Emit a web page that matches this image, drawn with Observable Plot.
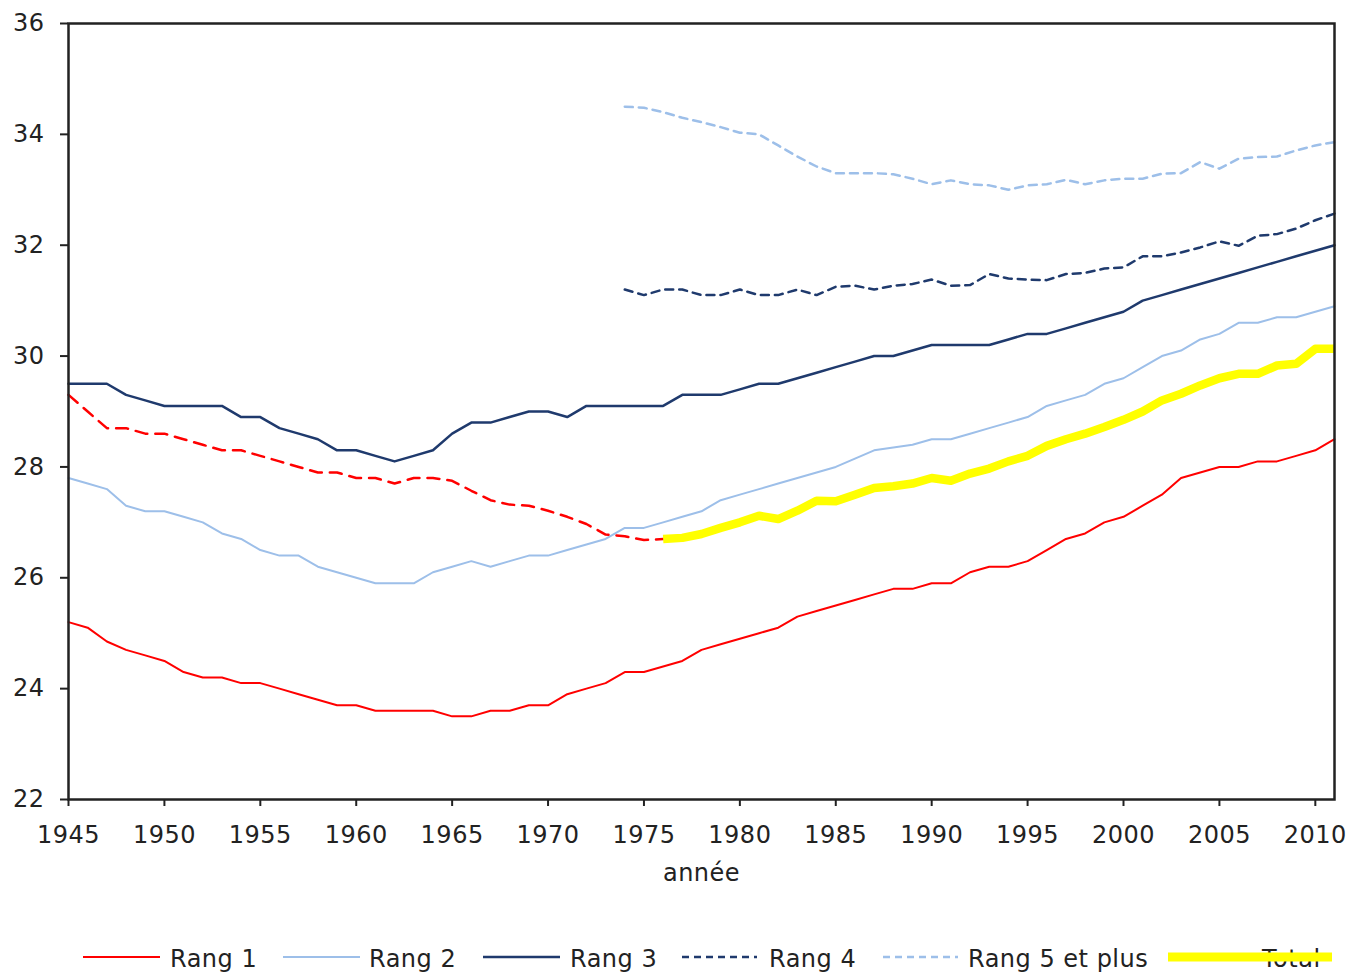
<!DOCTYPE html>
<html>
<head>
<meta charset="utf-8">
<script src="https://cdn.jsdelivr.net/npm/d3@7"></script>
<script src="https://cdn.jsdelivr.net/npm/@observablehq/plot@0.6"></script>
<style>
  html, body { margin: 0; padding: 0; background: #fff; }
  #wrap { position: relative; width: 1350px; height: 972px; overflow: hidden; }
  #legend { position: absolute; left: 0; top: 925px; }
  text { font-family: "DejaVu Sans", Verdana, sans-serif; letter-spacing: 0.5px; }
</style>
</head>
<body>
<div id="wrap">
  <div id="chart"></div>
  <svg id="legend" width="1350" height="47"></svg>
</div>
<script>
// ---- Data ----
const years = [1945,1946,1947,1948,1949,1950,1951,1952,1953,1954,
  1955,1956,1957,1958,1959,1960,1961,1962,1963,1964,
  1965,1966,1967,1968,1969,1970,1971,1972,1973,1974,
  1975,1976,1977,1978,1979,1980,1981,1982,1983,1984,
  1985,1986,1987,1988,1989,1990,1991,1992,1993,1994,
  1995,1996,1997,1998,1999,2000,2001,2002,2003,2004,
  2005,2006,2007,2008,2009,2010,2011];

const rang1 = [25.2,25.1,24.85,24.7,24.6,24.5,24.3,24.2,24.2,24.1,
  24.1,24.0,23.9,23.8,23.7,23.7,23.6,23.6,23.6,23.6,
  23.5,23.5,23.6,23.6,23.7,23.7,23.9,24.0,24.1,24.3,
  24.3,24.4,24.5,24.7,24.8,24.9,25.0,25.1,25.3,25.4,
  25.5,25.6,25.7,25.8,25.8,25.9,25.9,26.1,26.2,26.2,
  26.3,26.5,26.7,26.8,27.0,27.1,27.3,27.5,27.8,27.9,
  28.0,28.0,28.1,28.1,28.2,28.3,28.5];

const rang2 = [27.8,27.7,27.6,27.3,27.2,27.2,27.1,27.0,26.8,26.7,
  26.5,26.4,26.4,26.2,26.1,26.0,25.9,25.9,25.9,26.1,
  26.2,26.3,26.2,26.3,26.4,26.4,26.5,26.6,26.7,26.9,
  26.9,27.0,27.1,27.2,27.4,27.5,27.6,27.7,27.8,27.9,
  28.0,28.15,28.3,28.35,28.4,28.5,28.5,28.6,28.7,28.8,
  28.9,29.1,29.2,29.3,29.5,29.6,29.8,30.0,30.1,30.3,
  30.4,30.6,30.6,30.7,30.7,30.8,30.9];

const rang3 = [29.5,29.5,29.5,29.3,29.2,29.1,29.1,29.1,29.1,28.9,
  28.9,28.7,28.6,28.5,28.3,28.3,28.2,28.1,28.2,28.3,
  28.6,28.8,28.8,28.9,29.0,29.0,28.9,29.1,29.1,29.1,
  29.1,29.1,29.3,29.3,29.3,29.4,29.5,29.5,29.6,29.7,
  29.8,29.9,30.0,30.0,30.1,30.2,30.2,30.2,30.2,30.3,
  30.4,30.4,30.5,30.6,30.7,30.8,31.0,31.1,31.2,31.3,
  31.4,31.5,31.6,31.7,31.8,31.9,32.0];

// Rang 4 and Rang 5 et plus: series start in 1974
const yearsFrom1974 = [1974,
  1975,1976,1977,1978,1979,1980,1981,1982,1983,1984,
  1985,1986,1987,1988,1989,1990,1991,1992,1993,1994,
  1995,1996,1997,1998,1999,2000,2001,2002,2003,2004,
  2005,2006,2007,2008,2009,2010,2011];

const rang4 = [31.2,
  31.1,31.2,31.2,31.1,31.1,31.2,31.1,31.1,31.2,31.1,
  31.25,31.27,31.2,31.27,31.3,31.38,31.27,31.28,31.48,31.4,
  31.38,31.37,31.48,31.5,31.58,31.6,31.8,31.8,31.87,31.96,
  32.07,31.99,32.17,32.2,32.3,32.45,32.57];

const rang5 = [34.5,
  34.48,34.4,34.3,34.22,34.13,34.03,34.0,33.8,33.6,33.42,
  33.3,33.3,33.3,33.28,33.2,33.1,33.17,33.1,33.08,33.0,
  33.08,33.1,33.18,33.1,33.17,33.2,33.2,33.29,33.3,33.5,
  33.38,33.56,33.59,33.6,33.71,33.8,33.86];

// Total (dashed red over the whole period, highlighted in yellow from 1976)
const total = [29.3,29.0,28.7,28.7,28.6,28.6,28.5,28.4,28.3,28.3,
  28.2,28.1,28.0,27.9,27.9,27.8,27.8,27.7,27.8,27.8,
  27.75,27.57,27.4,27.32,27.3,27.21,27.1,26.97,26.78,26.75,
  26.68,26.7,26.72,26.79,26.9,27.0,27.12,27.06,27.21,27.39,
  27.38,27.5,27.62,27.65,27.7,27.8,27.75,27.88,27.97,28.1,
  28.2,28.38,28.5,28.6,28.72,28.85,29.0,29.2,29.32,29.47,
  29.6,29.68,29.68,29.83,29.86,30.13,30.13];
const totalHighlightFrom = 1976;

const xTicks = [1945,1950,1955,1960,1965,1970,1975,1980,1985,1990,1995,2000,2005,2010];
const yTicks = [22,24,26,28,30,32,34,36];
const xLabel = "année";

const seriesNames = ["Rang 1","Rang 2","Rang 3","Rang 4","Rang 5 et plus","Total"];

// ---- Styles ----
const RED = "#ff0000", LIGHT = "#9dbfe9", DARK = "#1f3a6d", YELLOW = "#ffff00", INK = "#222";

const tbl = (xs, vs) => xs.map((x, i) => ({year: x, v: vs[i]}));
const t1 = tbl(years, rang1), t2 = tbl(years, rang2), t3 = tbl(years, rang3);
const t4 = tbl(yearsFrom1974, rang4), t5 = tbl(yearsFrom1974, rang5);
const tT = tbl(years, total);
const tY = tT.filter(d => d.year >= totalHighlightFrom);

const chart = Plot.plot({
  width: 1350,
  height: 900,
  marginLeft: 68,
  marginRight: 16,
  marginTop: 23,
  marginBottom: 101,
  style: {fontFamily: '"DejaVu Sans", Verdana, sans-serif', fontSize: "24px", color: INK, background: "#fff"},
  x: {domain: [1945, 2011]},
  y: {domain: [22, 36]},
  marks: [
    Plot.axisX({ticks: xTicks, tickFormat: d => String(d), tickSize: 7, tickPadding: 19,
      label: xLabel, labelAnchor: "center", labelArrow: "none", labelOffset: 81,
      stroke: INK, strokeWidth: 2, fill: INK}),
    Plot.axisY({ticks: yTicks, tickFormat: d => String(d), tickSize: 8, tickPadding: 16,
      label: null, stroke: INK, strokeWidth: 2, fill: INK}),
    Plot.line(t1, {x: "year", y: "v", stroke: RED, strokeWidth: 2}),
    Plot.line(t2, {x: "year", y: "v", stroke: LIGHT, strokeWidth: 2}),
    Plot.line(t3, {x: "year", y: "v", stroke: DARK, strokeWidth: 2.5}),
    Plot.line(t4, {x: "year", y: "v", stroke: DARK, strokeWidth: 2.5, strokeDasharray: "8,6"}),
    Plot.line(t5, {x: "year", y: "v", stroke: LIGHT, strokeWidth: 2.5, strokeDasharray: "8,6"}),
    Plot.line(tT, {x: "year", y: "v", stroke: RED, strokeWidth: 2.5, strokeDasharray: "12,8"}),
    Plot.line(tY, {x: "year", y: "v", stroke: YELLOW, strokeWidth: 8.5, strokeLinejoin: "round", strokeLinecap: "butt"}),
    Plot.frame({stroke: INK, strokeWidth: 2.5})
  ]
});
document.getElementById("chart").appendChild(chart);

// ---- Legend ----
const legendStyles = [
  {stroke: RED, width: 2, dash: null},
  {stroke: LIGHT, width: 2, dash: null},
  {stroke: DARK, width: 2.5, dash: null},
  {stroke: DARK, width: 2.5, dash: "7,5"},
  {stroke: LIGHT, width: 2.5, dash: "7,5"},
  {stroke: YELLOW, width: 9, dash: null}
];
const legendLayout = [
  {x1: 83, x2: 160, tx: 170},
  {x1: 283, x2: 360, tx: 369},
  {x1: 483, x2: 560, tx: 570},
  {x1: 682, x2: 757, tx: 769},
  {x1: 883, x2: 958, tx: 968},
  {x1: 1168, x2: 1332, tx: 1262}
];
const lg = d3.select("#legend");
seriesNames.forEach((name, i) => {
  const L = legendLayout[i], S = legendStyles[i];
  const g = lg.append("g");
  g.append("text").attr("x", L.tx).attr("y", 42)
    .attr("font-size", 24).attr("fill", INK).text(name);
  g.append("line").attr("x1", L.x1).attr("x2", L.x2).attr("y1", 32).attr("y2", 32)
    .attr("stroke", S.stroke).attr("stroke-width", S.width)
    .attr("stroke-dasharray", S.dash);
});
</script>
</body>
</html>
